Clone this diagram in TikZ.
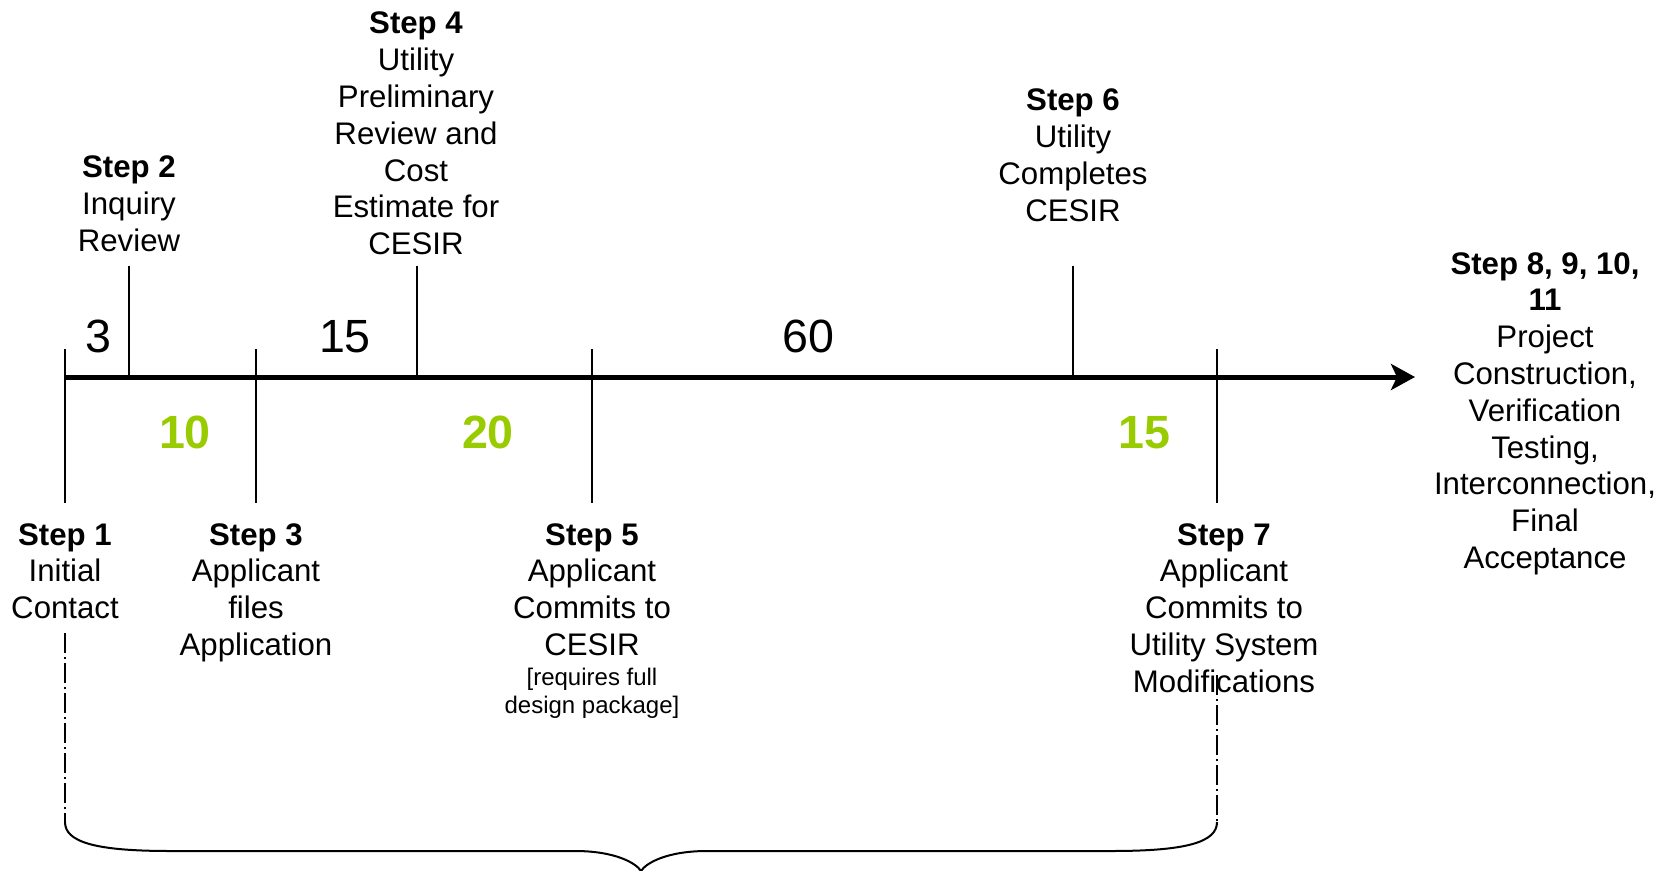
\documentclass[tikz,border=0pt]{standalone}
\usepackage{fontspec}
\setmainfont{Liberation Sans}
\usepackage{tikz}
\usetikzlibrary{arrows.meta}
\definecolor{daygreen}{RGB}{153,204,0}

\begin{document}
\begin{tikzpicture}[x=0.5pt, y=-0.5pt,
  steplabel/.style={align=center, anchor=base, inner sep=0pt, font=\fontsize{15.6}{18.4}\selectfont},
  notelabel/.style={align=center, anchor=base, inner sep=0pt, font=\fontsize{12}{13.9}\selectfont},
  days/.style={anchor=base, inner sep=0pt, font=\fontsize{23.3}{27}\selectfont},
  greendays/.style={anchor=base, inner sep=0pt, text=daygreen, font=\fontsize{23.3}{27}\selectfont\bfseries},
  tickline/.style={line width=0.9pt},
  guideline/.style={line width=1pt, dash pattern=on 10pt off 2pt on 1pt off 2pt}]
\useasboundingbox (0,0) rectangle (1674,871);
\coordinate (start) at (65,377);
\coordinate (end) at (1415,377);
\draw[-{Stealth[length=12pt,width=13pt,inset=3pt]}, line width=2.5pt] (start) -- (end);
\coordinate (t1) at (65,349);   \coordinate (b1) at (65,503);
\coordinate (t2) at (129,266);  \coordinate (b2) at (129,377);
\coordinate (t3) at (256,349);  \coordinate (b3) at (256,503);
\coordinate (t4) at (417,266);  \coordinate (b4) at (417,377);
\coordinate (t5) at (592,349);  \coordinate (b5) at (592,503);
\coordinate (t6) at (1073,266); \coordinate (b6) at (1073,377);
\coordinate (t7) at (1217,349); \coordinate (b7) at (1217,503);
\foreach \i in {1,...,7}
  \draw[tickline] (t\i) -- (b\i);
\node[steplabel] (step1) at (65,618.6) {\textbf{Step 1}\\Initial\\Contact};
\node[steplabel] (step2) at (129,251.6) {\textbf{Step 2}\\Inquiry\\Review};
\node[steplabel] (step3) at (256,655.4) {\textbf{Step 3}\\Applicant\\files\\Application};
\node[steplabel] (step4) at (416,254.8) {\textbf{Step 4}\\Utility\\Preliminary\\Review and\\Cost\\Estimate for\\CESIR};
\node[steplabel] (step5) at (592,655.4) {\textbf{Step 5}\\Applicant\\Commits to\\CESIR};
\node[notelabel] (step5note) at (592,713) {[requires full\\design package]};
\node[steplabel] (step6) at (1073,221.4) {\textbf{Step 6}\\Utility\\Completes\\CESIR};
\node[steplabel] (step7) at (1224,692.2) {\textbf{Step 7}\\Applicant\\Commits to\\Utility System\\Modifications};
\node[steplabel] (step8) at (1545,568.4) {\textbf{Step 8, 9, 10,}\\\textbf{11}\\Project\\Construction,\\Verification\\Testing,\\Interconnection,\\Final\\Acceptance};
\node[days] (d3) at (98,352.5) {3};
\node[days] (d15) at (345,352.5) {15};
\node[days] (d60) at (808,352.5) {60};
\node[greendays] (g10) at (185,448) {10};
\node[greendays] (g20) at (488,448) {20};
\node[greendays] (g15) at (1144,448) {15};
\coordinate (lefttop) at (65,633);
\coordinate (leftcorner) at (65,822);
\coordinate (righttop) at (1217,675);
\coordinate (rightcorner) at (1217,822);
\coordinate (tip) at (641,871);
\draw[guideline] (lefttop) -- (leftcorner);
\draw[guideline] (righttop) -- (rightcorner);
\draw[line width=1pt] (leftcorner) .. controls (65,842) and (95,851) .. (170,851) -- (575,851)
  .. controls (615,851) and (636,863) .. (tip) .. controls (646,863) and (667,851) .. (707,851)
  -- (1112,851) .. controls (1187,851) and (1217,842) .. (rightcorner);
\end{tikzpicture}
\end{document}
